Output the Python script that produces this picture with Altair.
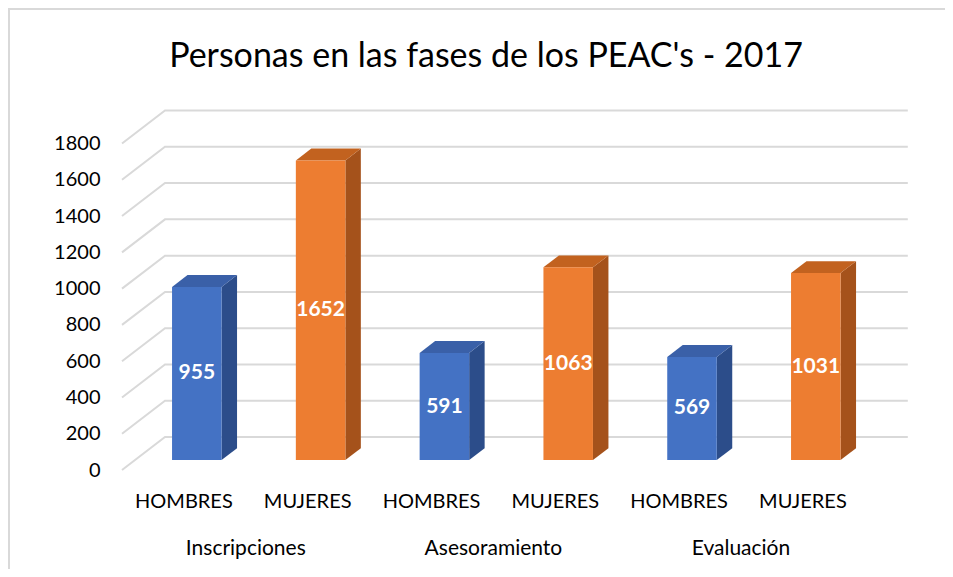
import altair as alt
import pandas as pd

# ---- data ----
fases = ["Inscripciones", "Asesoramiento", "Evaluación"]
sexos = ["HOMBRES", "MUJERES"]
hombres = [955, 591, 569]
mujeres = [1652, 1063, 1031]
y_ticks = [0, 200, 400, 600, 800, 1000, 1200, 1400, 1600, 1800]
chart_title = "Personas en las fases de los PEAC's - 2017"

# ---- geometry / style ----
FONT = "Lato"
W, H = 788, 370
SLOT_PX = 123.8
X_MAX = W / SLOT_PX
Y_MAX = 2040
DX = 43 / SLOT_PX          # full depth, slot units
DY = 33 * Y_MAX / H        # full depth, value units
F0 = 0.30                  # depth of bar front face
T = 0.36                   # bar thickness (depth fraction)
HALF = 0.2                 # half bar width (slot units)

FRONT = ["#4472C4", "#ED7D31"]
SIDE = ["#2C4D8A", "#A5521B"]
TOP = ["#3A60A8", "#C2621F"]

xs = alt.Scale(domain=[0, X_MAX], nice=False, zero=False)
ys = alt.Scale(domain=[0, Y_MAX], nice=False, zero=False)

rows, side_rows, top_rows = [], [], []
for g, fase in enumerate(fases):
    for s, (sexo, vals) in enumerate(zip(sexos, [hombres, mujeres])):
        i = 2 * g + s
        v = vals[g]
        cx = i + 0.5 + F0 * DX
        xl, xr = cx - HALF, cx + HALF
        bot = F0 * DY
        top = v + bot
        rows.append(dict(id=i, fase=fase, sexo=sexo, valor=v, slot=i + 0.5,
                         xl=xl, xr=xr, cx=cx, bot=bot, top=top, mid=bot + v / 2))
        side_rows.append(dict(id=i, lado=sexo, x=xr, y=bot, y2=top))
        side_rows.append(dict(id=i, lado=sexo, x=xr + T * DX, y=bot + T * DY, y2=top + T * DY))
        top_rows.append(dict(id=i, tapa=sexo, y=top, x=xl, x2=xr))
        top_rows.append(dict(id=i, tapa=sexo, y=top + T * DY, x=xl + T * DX, x2=xr + T * DX))

bars = pd.DataFrame(rows)
side = pd.DataFrame(side_rows)
topf = pd.DataFrame(top_rows)

grid_rows = []
for v in y_ticks:
    grid_rows.append(dict(tick=v, o=0, x=0, y=v))
    grid_rows.append(dict(tick=v, o=1, x=DX, y=v + DY))
    grid_rows.append(dict(tick=v, o=2, x=6 + DX, y=v + DY))
grid = pd.DataFrame(grid_rows)

groups = pd.DataFrame(dict(fase=fases, x=[2 * g + 1 for g in range(len(fases))]))


def col(field, rng):
    return alt.Color(f"{field}:N", scale=alt.Scale(domain=sexos, range=rng), legend=None)


frame = alt.Chart(pd.DataFrame({"a": [0]})).mark_rect(
    filled=False, stroke="#D9D9D9", strokeWidth=2
).encode(x=alt.value(-113), x2=alt.value(900), y=alt.value(-91), y2=alt.value(600))

grid_layer = alt.Chart(grid).mark_line(color="#D9D9D9", strokeWidth=2).encode(
    x=alt.X("x:Q", scale=xs, axis=None),
    y=alt.Y("y:Q", scale=ys, axis=alt.Axis(
        values=y_ticks, format="d", grid=False, domain=False, ticks=False, tickSize=0,
        labelPadding=22, labelFont=FONT, labelFontSize=20, labelColor="#000000",
        title=None, zindex=1)),
    detail="tick:N",
    order="o:Q",
)

side_layer = alt.Chart(side).mark_area().encode(
    x=alt.X("x:Q", scale=xs, axis=None),
    y=alt.Y("y:Q", scale=ys),
    y2="y2:Q",
    detail="id:N",
    color=col("lado", SIDE),
)

top_layer = alt.Chart(topf).mark_area(orient="horizontal").encode(
    y=alt.Y("y:Q", scale=ys),
    x=alt.X("x:Q", scale=xs, axis=None),
    x2="x2:Q",
    detail="id:N",
    color=col("tapa", TOP),
)

front_layer = alt.Chart(bars).mark_rect().encode(
    x=alt.X("xl:Q", scale=xs, axis=None),
    x2="xr:Q",
    y=alt.Y("bot:Q", scale=ys),
    y2="top:Q",
    color=col("sexo", FRONT),
)

value_labels = alt.Chart(bars).mark_text(
    font=FONT, fontSize=21, fontWeight="bold", color="white", baseline="middle"
).encode(
    x=alt.X("cx:Q", scale=xs, axis=None),
    y=alt.Y("mid:Q", scale=ys),
    text="valor:Q",
)

sex_labels = alt.Chart(bars).mark_text(
    font=FONT, fontSize=20, color="#000000", baseline="alphabetic"
).encode(
    x=alt.X("slot:Q", scale=xs, axis=None),
    y=alt.value(408),
    text="sexo:N",
)

group_labels = alt.Chart(groups).mark_text(
    font=FONT, fontSize=21, color="#000000", baseline="alphabetic"
).encode(
    x=alt.X("x:Q", scale=xs, axis=None),
    y=alt.value(455),
    text="fase:N",
)

chart = alt.layer(
    frame, grid_layer, side_layer, top_layer, front_layer, value_labels, sex_labels, group_labels
).resolve_scale(
    color="independent"
).properties(
    width=W, height=H,
    padding={"left": 114, "top": 92, "right": 35, "bottom": 99},
    autosize=alt.AutoSizeParams(type="none"),
    title=alt.TitleParams(chart_title, font=FONT, fontSize=34, fontWeight="normal",
                          color="#000000", anchor="middle", dx=-30, offset=-66),
).configure_view(stroke=None)

chart.save("out.html", embed_options={"renderer": "svg", "actions": False})
